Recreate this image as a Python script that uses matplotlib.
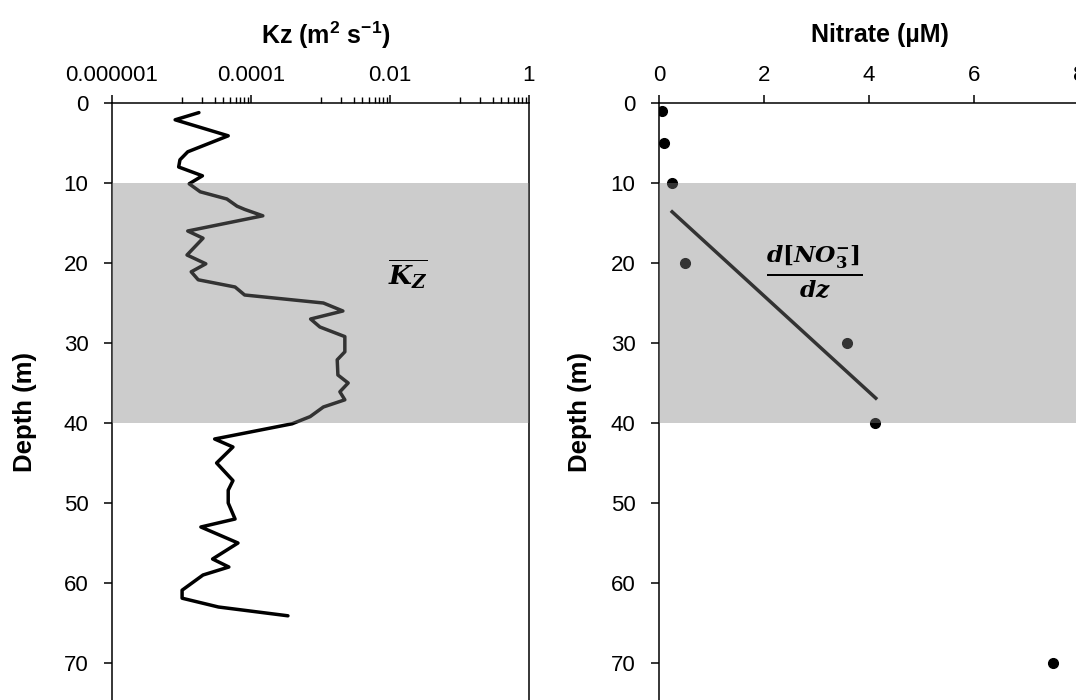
import matplotlib
matplotlib.use("Agg")
import matplotlib.pyplot as plt
import numpy as np

plt.rcParams['font.family'] = ['Liberation Sans', 'DejaVu Sans']
plt.rcParams['mathtext.fontset'] = 'custom'
plt.rcParams['mathtext.rm'] = 'Liberation Sans'
plt.rcParams['mathtext.bf'] = 'Liberation Sans:bold'

# ---- data ----
kz_depth = [1.2, 2.1, 4.1, 6.1, 7.1, 8.0, 9.1, 10.1, 11.1, 12.0, 12.9, 13.3, 14.1,
            16.0, 16.9, 19.0, 20.1, 21.1, 22.1, 23.0, 24.0, 25.0, 26.0, 27.0, 28.0,
            29.2, 31.1, 32.1, 34.0, 35.0, 36.1, 37.1, 38.0, 39.2, 40.1, 42.0, 43.0,
            45.0, 47.2, 48.4, 50.0, 52.0, 53.0, 55.0, 57.0, 58.0, 59.0, 60.9, 61.9,
            63.0, 64.1]
kz_value = [1.78e-5, 8.1e-6, 4.7e-5, 1.23e-5, 9.5e-6, 9.1e-6, 2.0e-5, 1.29e-5, 1.86e-5,
            4.5e-5, 6.3e-5, 8.1e-5, 1.48e-4, 1.23e-5, 2.04e-5, 1.2e-5, 2.24e-5, 1.38e-5,
            1.74e-5, 5.9e-5, 8.1e-5, 1.1e-3, 2.1e-3, 7.2e-4, 9.8e-4, 2.24e-3, 2.24e-3,
            1.74e-3, 1.78e-3, 2.5e-3, 1.9e-3, 2.24e-3, 1.1e-3, 7.1e-4, 3.9e-4, 3.0e-5,
            5.5e-5, 3.2e-5, 5.5e-5, 4.7e-5, 4.7e-5, 5.9e-5, 1.9e-5, 6.5e-5, 2.8e-5,
            4.8e-5, 2.04e-5, 1.02e-5, 1.02e-5, 3.4e-5, 3.4e-4]

no3_depth = [1, 5, 10, 20, 30, 40, 70]
no3_value = [0.06, 0.1, 0.25, 0.5, 3.58, 4.11, 7.5]

grad_depth = [13.6, 36.9]
grad_value = [0.25, 4.13]

band_depth = [10, 40]

kz_ticks = [1e-6, 1e-4, 1e-2, 1]
kz_ticklabels = ["0.000001", "0.0001", "0.01", "1"]
no3_ticks = [0, 2, 4, 6, 8]
depth_ticks = [0, 10, 20, 30, 40, 50, 60, 70]

W, H = 1076, 700
fig = plt.figure(figsize=(W / 100, H / 100), dpi=100)

ytop = 103
ybot = 700
depth_max = (ybot - ytop) / 8.0


def make_ax(x0, x1):
    return fig.add_axes([x0 / W, 1 - ybot / H, (x1 - x0) / W, (ybot - ytop) / H])


ax1 = make_ax(112, 529)
ax2 = make_ax(659, 1079)

for ax in (ax1, ax2):
    ax.set_ylim(depth_max, 0)
    ax.axhspan(band_depth[0], band_depth[1], color='#808080', alpha=0.4, lw=0, zorder=3)
    ax.spines['bottom'].set_visible(False)
    for s in ('top', 'left', 'right'):
        ax.spines[s].set_linewidth(1.1)
        ax.spines[s].set_color('black')
    ax.xaxis.tick_top()
    ax.tick_params(axis='x', which='major', direction='out', length=6, width=1.1,
                   labelsize=16, pad=6, top=True, bottom=False)
    ax.tick_params(axis='y', which='major', direction='out', length=6, width=1.1,
                   labelsize=16, pad=11, right=False)
    ax.set_yticks(depth_ticks)
    ax.set_yticklabels([str(d) for d in depth_ticks])

# Left panel
ax1.set_xscale('log')
ax1.set_xlim(1e-6, 1)
ax1.plot(kz_value, kz_depth, color='black', lw=2.5, zorder=2, solid_joinstyle='round',
         solid_capstyle='round')
ax1.set_xticks(kz_ticks)
ax1.set_xticklabels(kz_ticklabels)
minor = [k * 10.0 ** n for n in (-5, -3, -1) for k in range(1, 10)]
ax1.set_xticks(minor, minor=True)
ax1.xaxis.set_minor_formatter(matplotlib.ticker.NullFormatter())
ax1.tick_params(axis='x', which='minor', direction='out', length=4, width=1.0,
                top=True, bottom=False)
ax1.yaxis.set_minor_locator(matplotlib.ticker.NullLocator())

# Right panel
ax2.set_xlim(0, 8)
ax2.set_xticks(no3_ticks)
ax2.set_xticklabels([str(v) for v in no3_ticks])
ax2.plot(no3_value, no3_depth, 'o', color='black', ms=7, zorder=2)
ax2.plot(grad_value, grad_depth, color='black', lw=2.5, zorder=2)

# Titles and labels
fig.text(326 / W, 1 - 35 / H, r'Kz (m$^\mathbf{2}$ s$^\mathbf{-1}$)', ha='center', va='center',
         fontsize=18, fontweight='bold', math_fontfamily='custom')
fig.text(880 / W, 1 - 35 / H, 'Nitrate (µM)', ha='center', va='center',
         fontsize=18, fontweight='bold')
fig.text(25 / W, 1 - 412 / H, 'Depth (m)', ha='center', va='center', rotation=90,
         fontsize=18.5, fontweight='bold')
fig.text(580 / W, 1 - 412 / H, 'Depth (m)', ha='center', va='center', rotation=90,
         fontsize=18.5, fontweight='bold')

# Annotations
fig.text(408 / W, 1 - 274 / H, r'$\overline{\mathbfit{K_Z}}$', ha='center', va='center',
         fontsize=19, math_fontfamily='dejavuserif', zorder=10)
fig.text(814 / W, 1 - 272 / H,
         r'$\frac{\mathbfit{d}\mathbf{[}\mathbfit{NO}_{\mathbf{3}}^{\mathbf{-}}\mathbf{]}}{\mathbfit{dz}}$',
         ha='center', va='center', fontsize=24, math_fontfamily='dejavuserif', zorder=10)

fig.savefig('out.png', dpi=100)
